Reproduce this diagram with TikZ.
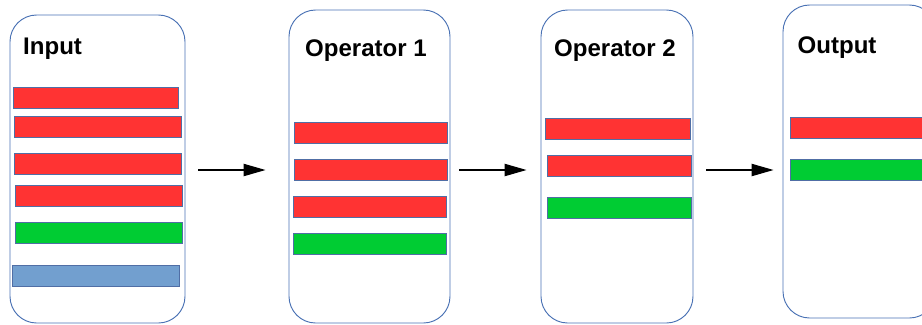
\documentclass[tikz,border=0pt]{standalone}
\usepackage{fontspec}
\setmainfont{Liberation Sans}
\usetikzlibrary{arrows.meta,positioning}
\definecolor{laneblue}{RGB}{74,114,180}
\definecolor{barred}{RGB}{255,51,51}
\definecolor{bargreen}{RGB}{0,204,51}
\definecolor{barblue}{RGB}{114,159,207}
\definecolor{baredge}{RGB}{80,110,165}

\begin{document}
\begin{tikzpicture}[x=0.03cm,y=-0.03cm,
  lane/.style={rectangle,rounded corners=0.8cm,draw=laneblue,line width=0.8pt,minimum height=9.39cm,inner sep=0pt},
  title/.style={anchor=base west,inner sep=0pt,font=\bfseries\fontsize{20.5}{24}\selectfont},
  bar/.style={rectangle,anchor=north west,draw=baredge,line width=0.7pt,minimum height=0.63cm,inner sep=0pt},
  redbar/.style={bar,fill=barred},
  greenbar/.style={bar,fill=bargreen},
  bluebar/.style={bar,fill=barblue},
  flow/.style={-{Triangle[length=0.66cm,width=0.37cm]},line width=1pt,black}]
  \useasboundingbox (0,0) rectangle (922,324);
  % stages
  \node[lane,minimum width=5.25cm,minimum height=9.24cm] (input) at (97.5,169) {};
  \node[lane,minimum width=4.83cm] (op1) at (369.5,166.5) {};
  \node[lane,minimum width=4.56cm] (op2) at (617,166.5) {};
  \node[lane,minimum width=4.59cm] (output) at (859.5,161.5) {};
  \node[title] (input-title) at (23,54.3) {Input};
  \node[title] (op1-title) at (305,56.7) {Operator 1};
  \node[title] (op2-title) at (554,56.7) {Operator 2};
  \node[title] (output-title) at (797.5,53.3) {Output};
  % rows in each stage
  \node[redbar,minimum width=4.95cm] (in-r1) at (13,87) {};
  \node[redbar,minimum width=5.01cm] (in-r2) at (14,116) {};
  \node[redbar,minimum width=5.01cm] (in-r3) at (14,153) {};
  \node[redbar,minimum width=5.01cm] (in-r4) at (15,185) {};
  \node[greenbar,minimum width=5.01cm] (in-g1) at (15,222) {};
  \node[bluebar,minimum width=5.01cm] (in-b1) at (12,265) {};
  \node[redbar,minimum width=4.59cm] (op1-r1) at (294,122) {};
  \node[redbar,minimum width=4.59cm] (op1-r2) at (294,159) {};
  \node[redbar,minimum width=4.59cm] (op1-r3) at (293,196) {};
  \node[greenbar,minimum width=4.59cm] (op1-g1) at (293,233) {};
  \node[redbar,minimum width=4.35cm] (op2-r1) at (545,117.5) {};
  \node[redbar,minimum width=4.32cm] (op2-r2) at (547,155) {};
  \node[greenbar,minimum width=4.32cm] (op2-g1) at (547,197) {};
  \node[redbar,minimum width=4.5cm] (out-r1) at (790,116.5) {};
  \node[greenbar,minimum width=4.5cm] (out-g1) at (790,159) {};
  % arrows between stages
  \draw[flow,shorten <=0.39cm,shorten >=0.69cm] (input.east|-0,170) -- (op1.west|-0,170);
  \draw[flow,shorten <=0.27cm,shorten >=0.42cm] (op1.east|-0,170) -- (op2.west|-0,170);
  \draw[flow,shorten <=0.39cm,shorten >=0.27cm] (op2.east|-0,170) -- (output.west|-0,170);
\end{tikzpicture}
\end{document}
